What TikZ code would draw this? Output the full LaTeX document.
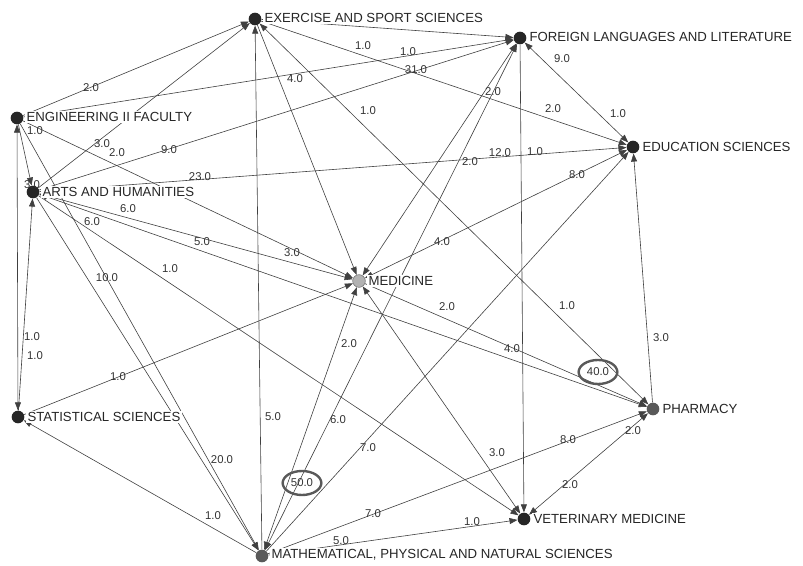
\documentclass[tikz,border=0pt]{standalone}
\usepackage{fontspec}
\setmainfont{Liberation Sans}
\usetikzlibrary{arrows.meta,positioning,shapes.geometric,backgrounds}
\begin{document}
\begin{tikzpicture}[x=0.75pt, y=-0.75pt,
    dot/.style={circle, fill=black!85, inner sep=0pt, minimum size=9.5pt},
    fac/.style={fill=white, text=black!85, inner sep=1pt, font=\fontsize{9.9}{11}\selectfont},
    wt/.style={text=black!80, inner sep=0.5pt, font=\fontsize{8.5}{9}\selectfont},
    ring/.style={wt, draw=black!65, line width=1.8pt, ellipse, minimum width=29pt, minimum height=18pt},
    link/.style={draw=black!75, line width=0.45pt, -{Triangle[length=6pt,width=4.5pt]}},
    dlink/.style={link, {Triangle[length=6pt,width=4.5pt]}-{Triangle[length=6pt,width=4.5pt]}}]
            \useasboundingbox (0,0) rectangle (803,566);

            \node[dot] (EXE) at (255,19) {};
            \node[dot] (FOR) at (520,38) {};
            \node[dot] (ENG) at (17,118) {};
            \node[dot] (ART) at (33,192) {};
            \node[dot] (EDU) at (633,147) {};
            \node[dot, fill=black!30, draw=black!55] (MED) at (359,281) {};
            \node[dot] (STA) at (18,417) {};
            \node[dot, fill=black!65] (PHA) at (653,409) {};
            \node[dot] (VET) at (524,519) {};
            \node[dot, fill=black!65] (MAT) at (262,556) {};

            \node[fac, right=1pt of EXE, yshift=1pt] (EXEname) {EXERCISE AND SPORT SCIENCES};
            \node[fac, right=1pt of FOR, yshift=1pt] (FORname) {FOREIGN LANGUAGES AND LITERATURE};
            \node[fac, right=1pt of ENG, yshift=1pt] (ENGname) {ENGINEERING II FACULTY};
            \node[fac, right=1pt of ART] (ARTname) {ARTS AND HUMANITIES};
            \node[fac, right=1pt of EDU] (EDUname) {EDUCATION SCIENCES};
            \node[fac, right=1pt of MED] (MEDname) {MEDICINE};
            \node[fac, right=1pt of STA] (STAname) {STATISTICAL SCIENCES};
            \node[fac, right=1pt of PHA] (PHAname) {PHARMACY};
            \node[fac, right=1pt of VET] (VETname) {VETERINARY MEDICINE};
            \node[fac, right=1pt of MAT, yshift=1pt] (MATname) {MATHEMATICAL, PHYSICAL AND NATURAL SCIENCES};

            \begin{scope}[on background layer]
            \draw[link] (ENG) -- (EXE);
            \draw[link] (ENG) -- (FOR);
            \draw[link] (ENG) -- (ART);
            \draw[dlink] (ENG) -- (STA);
            \draw[link] (ENG) -- (MED);
            \draw[link] (ENG) -- (MAT);
            \draw[link] (ART) -- (EXE);
            \draw[link] (ART) -- (FOR);
            \draw[link] (ART) -- (EDU);
            \draw[dlink] (ART) -- (MED);
            \draw[dlink] (ART) -- (PHA);
            \draw[link] (ART) -- (VET);
            \draw[link] (ART) -- (MAT);
            \draw[link] (STA) -- (ART);
            \draw[link] (EXE) -- (FOR);
            \draw[link] (EXE) -- (EDU);
            \draw[link] (EXE) -- (MED);
            \draw[dlink] (EXE) -- (PHA);
            \draw[link] (MAT) -- (EXE);
            \draw[dlink] (FOR) -- (EDU);
            \draw[dlink] (FOR) -- (MED);
            \draw[dlink] (MAT) -- (FOR);
            \draw[link] (FOR) -- (VET);
            \draw[dlink] (MED) -- (EDU);
            \draw[link] (MAT) -- (EDU);
            \draw[link] (PHA) -- (EDU);
            \draw[link] (STA) -- (MED);
            \draw[dlink] (MAT) -- (MED);
            \draw[link] (MAT) -- (PHA);
            \draw[link] (MAT) -- (VET);
            \draw[link] (MAT) -- (STA);
            \draw[dlink] (VET) -- (PHA);
            \draw[link] (MED) -- (PHA);
            \draw[dlink] (MED) -- (VET);
            \end{scope}

            \node[wt] (l1) at (91,88) {2.0};
            \node[wt] (l2) at (35,131) {1.0};
            \node[wt] (l3) at (102,144) {3.0};
            \node[wt] (l4) at (117,153) {2.0};
            \node[wt] (l5) at (169,150) {9.0};
            \node[wt] (l6) at (32,185) {3.0};
            \node[wt] (l7) at (200,177) {23.0};
            \node[wt] (l8) at (128,209) {6.0};
            \node[wt] (l9) at (92,222) {6.0};
            \node[wt] (l10) at (202,242) {5.0};
            \node[wt] (l11) at (170,269) {1.0};
            \node[wt] (l12) at (107,278) {10.0};
            \node[wt] (l13) at (292,253) {3.0};
            \node[wt] (l14) at (32,337) {1.0};
            \node[wt] (l15) at (35,356) {1.0};
            \node[wt] (l16) at (118,377) {1.0};
            \node[wt] (l17) at (222,460) {20.0};
            \node[wt] (l18) at (213,516) {1.0};
            \node[wt] (l19) at (273,417) {5.0};
            \node[wt] (l20) at (295,79) {4.0};
            \node[wt] (l21) at (363,46) {1.0};
            \node[wt] (l22) at (408,52) {1.0};
            \node[wt] (l23) at (416,70) {31.0};
            \node[wt] (l24) at (368,111) {1.0};
            \node[wt] (l25) at (493,92) {2.0};
            \node[wt] (l26) at (500,153) {12.0};
            \node[wt] (l27) at (535,152) {1.0};
            \node[wt] (l28) at (470,162) {2.0};
            \node[wt] (l29) at (562,59) {9.0};
            \node[wt] (l30) at (553,109) {2.0};
            \node[wt] (l31) at (618,114) {1.0};
            \node[wt] (l32) at (577,175) {8.0};
            \node[wt] (l33) at (442,242) {4.0};
            \node[wt] (l34) at (447,307) {2.0};
            \node[wt] (l35) at (512,349) {4.0};
            \node[wt] (l36) at (567,306) {1.0};
            \node[ring] (l37) at (598,372) {40.0};
            \node[wt] (l38) at (661,338) {3.0};
            \node[wt] (l39) at (349,344) {2.0};
            \node[wt] (l40) at (338,420) {6.0};
            \node[ring] (l41) at (302,483) {50.0};
            \node[wt] (l42) at (368,448) {7.0};
            \node[wt] (l43) at (497,453) {3.0};
            \node[wt] (l44) at (373,514) {7.0};
            \node[wt] (l45) at (341,541) {5.0};
            \node[wt] (l46) at (472,522) {1.0};
            \node[wt] (l47) at (568,440) {8.0};
            \node[wt] (l48) at (570,485) {2.0};
            \node[wt] (l49) at (633,431) {2.0};
        \end{tikzpicture}
\end{document}
